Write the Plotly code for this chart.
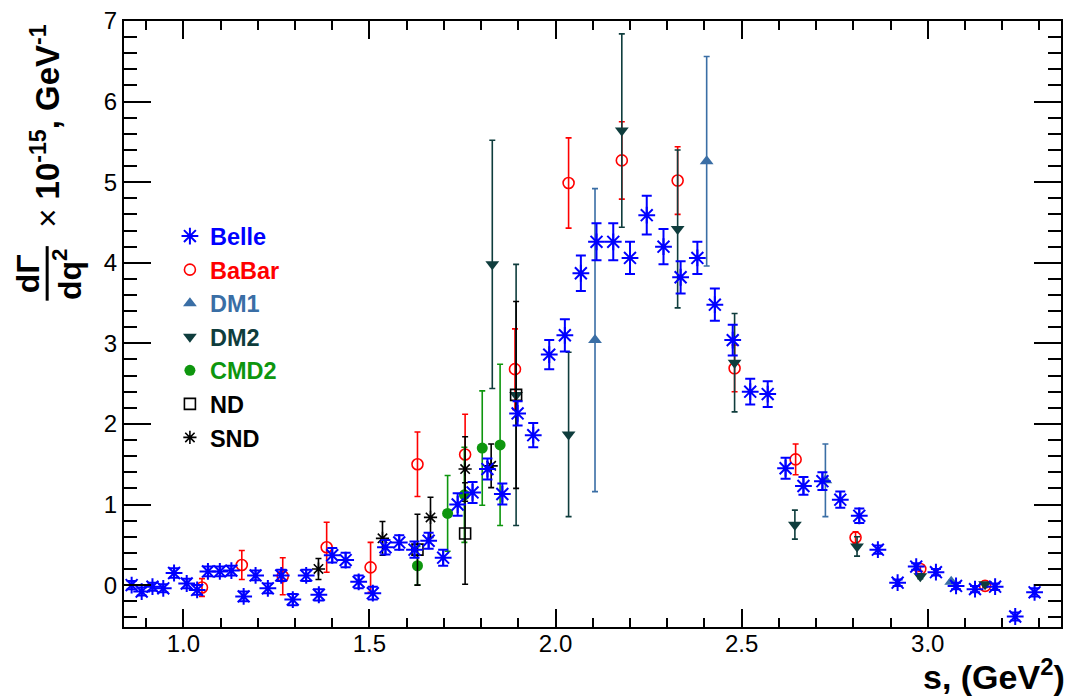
import plotly.graph_objects as go

# ---------------- data ----------------
belle_s = [0.861, 0.888, 0.917, 0.946, 0.975, 1.009, 1.037, 1.066, 1.098, 1.129,
           1.162, 1.194, 1.227, 1.263, 1.294, 1.330, 1.364, 1.400, 1.436, 1.471,
           1.509, 1.543, 1.580, 1.621, 1.659, 1.698, 1.737, 1.777, 1.817, 1.857,
           1.898, 1.940, 1.983, 2.025, 2.068, 2.110, 2.155, 2.200, 2.245, 2.290,
           2.336, 2.381, 2.428, 2.476, 2.523, 2.570, 2.618, 2.666, 2.717, 2.765,
           2.816, 2.866, 2.919, 2.969, 3.022, 3.076, 3.127, 3.181, 3.235, 3.287]
belle_v = [0.00, -0.08, -0.02, -0.04, 0.15, 0.02, -0.06, 0.17, 0.17, 0.18,
           -0.14, 0.12, -0.04, 0.12, -0.18, 0.12, -0.12, 0.37, 0.31, 0.04,
           -0.10, 0.47, 0.53, 0.44, 0.55, 0.34, 1.00, 1.15, 1.44, 1.13,
           2.13, 1.86, 2.86, 3.10, 3.87, 4.26, 4.26, 4.06, 4.59, 4.20,
           3.82, 4.06, 3.48, 3.04, 2.40, 2.37, 1.45, 1.23, 1.29, 1.06,
           0.86, 0.44, 0.03, 0.23, 0.16, -0.01, -0.05, -0.02, -0.39, -0.09]
belle_e = [0.05, 0.05, 0.05, 0.05, 0.06, 0.06, 0.06, 0.06, 0.06, 0.06,
           0.06, 0.06, 0.06, 0.07, 0.07, 0.07, 0.07, 0.09, 0.09, 0.08,
           0.08, 0.09, 0.09, 0.10, 0.10, 0.10, 0.14, 0.13, 0.13, 0.13,
           0.15, 0.15, 0.18, 0.20, 0.22, 0.23, 0.23, 0.20, 0.24, 0.22,
           0.20, 0.20, 0.20, 0.19, 0.16, 0.16, 0.13, 0.11, 0.11, 0.10,
           0.09, 0.05, 0.04, 0.04, 0.04, 0.04, 0.04, 0.04, 0.05, 0.05]

babar_s = [1.050, 1.157, 1.267, 1.385, 1.503, 1.629, 1.757, 1.891, 2.035, 2.178,
           2.328, 2.481, 2.645, 2.806, 2.980, 3.154]
babar_v = [-0.03, 0.25, 0.11, 0.47, 0.22, 1.50, 1.62, 2.68, 4.99, 5.27,
           5.02, 2.69, 1.56, 0.59, 0.20, -0.01]
babar_e = [0.11, 0.18, 0.23, 0.31, 0.31, 0.40, 0.50, 0.50, 0.56, 0.48,
           0.42, 0.29, 0.19, 0.07, 0.03, 0.02]

dm1_s = [2.106, 2.406, 2.725, 3.063]
dm1_v = [3.04, 5.26, 1.30, 0.04]
dm1_e = [1.88, 1.30, 0.45, 0.02]

dm2_s = [1.830, 1.894, 2.035, 2.178, 2.328, 2.481, 2.643, 2.810, 2.980, 3.154]
dm2_v = [3.98, 2.36, 1.87, 5.64, 4.42, 2.76, 0.75, 0.48, 0.11, 0.01]
dm2_e = [1.54, 1.62, 1.02, 1.20, 0.98, 0.61, 0.18, 0.12, 0.03, 0.02]

cmd2_s = [1.629, 1.710, 1.755, 1.803, 1.851]
cmd2_v = [0.24, 0.89, 1.12, 1.70, 1.74]
cmd2_e = [0.24, 0.47, 0.59, 0.71, 1.00]

nd_s = [1.629, 1.757, 1.894]
nd_v = [0.44, 0.64, 2.36]
nd_e = [0.44, 0.63, 1.16]

snd_s = [1.363, 1.535, 1.664, 1.757, 1.827]
snd_v = [0.20, 0.58, 0.84, 1.44, 1.48]
snd_e = [0.13, 0.21, 0.25, 0.40, 0.27]

# ---------------- styling ----------------
C_BELLE = "#0000ff"
C_BABAR = "#ff0000"
C_DM1 = "#3a6ea5"
C_DM2 = "#0f3d3d"
C_CMD2 = "#0e960e"
C_BLACK = "#000000"
FONT = "Liberation Sans, Arial, sans-serif"


def lname(txt, col):
    return "<b><span style='color:%s'>%s</span></b>" % (col, txt)


fig = go.Figure()


def add(s, v, e, name, col, symbol, size, rank, lw=1.5, cap=3, eth=1.6, fill=None):
    fig.add_trace(go.Scatter(
        x=s, y=v, mode="markers", name=lname(name, col), legendrank=rank,
        legendgroup=name,
        marker=dict(symbol=symbol, size=size, color=fill if fill else col,
                    line=dict(color=col, width=lw)),
        error_y=dict(type="data", array=e, visible=True, color=col,
                     thickness=eth, width=cap),
    ))


add(babar_s, babar_v, babar_e, "BaBar", C_BABAR, "circle-open", 11, 2, lw=1.6)
add(dm1_s, dm1_v, dm1_e, "DM1", C_DM1, "triangle-up", 12, 3, lw=0)
add(dm2_s, dm2_v, dm2_e, "DM2", C_DM2, "triangle-down", 12, 4, lw=0)
add(cmd2_s, cmd2_v, cmd2_e, "CMD2", C_CMD2, "circle", 11, 5, lw=0)
add(nd_s, nd_v, nd_e, "ND", C_BLACK, "square-open", 11, 6, lw=1.6)
add(snd_s, snd_v, snd_e, "SND", C_BLACK, "asterisk-open", 11, 7, lw=1.6)
add(belle_s, belle_v, belle_e, "Belle", C_BELLE, "asterisk-open", 14, 1,
    lw=2, cap=5, eth=2)

axis_common = dict(
    showline=True, linecolor="black", linewidth=2, mirror="allticks",
    ticks="inside", tickcolor="black", tickwidth=2,
    showgrid=False, zeroline=False,
    tickfont=dict(family=FONT, size=24, color="black"),
)

fig.update_xaxes(range=[0.8405, 3.358], tick0=0, dtick=0.5, tickformat=".1f",
                 ticklen=18, ticklabelstandoff=-6,
                 minor=dict(dtick=0.1, ticklen=9, tickwidth=2, tickcolor="black",
                            ticks="inside", showgrid=False),
                 **axis_common)
fig.update_yaxes(range=[-0.52, 7.0], tick0=0, dtick=1, ticklen=27,
                 minor=dict(dtick=0.2, ticklen=13, tickwidth=2, tickcolor="black",
                            ticks="inside", showgrid=False),
                 **axis_common)

ann_font = dict(family=FONT, size=32, color="black")
annotations = [
    dict(text="<b>s, (GeV<sup>2</sup>)</b>", xref="paper", yref="paper",
         x=1.006, y=-0.078, xanchor="right", yanchor="middle", showarrow=False,
         font=dict(family=FONT, size=34, color="black")),
    dict(text="<b>dΓ</b>", xref="paper", yref="paper", x=-0.1022, y=0.5826,
         xanchor="center", yanchor="middle", textangle=-90, showarrow=False,
         font=ann_font),
    dict(text="<b>dq<sup>2</sup></b>", xref="paper", yref="paper", x=-0.0607,
         y=0.5826, xanchor="center", yanchor="middle", textangle=-90,
         showarrow=False, font=ann_font),
    dict(text="× <b>10<sup>-15</sup>, GeV<sup>-1</sup></b>", xref="paper",
         yref="paper", x=-0.0841, y=0.8273, xanchor="center", yanchor="middle",
         textangle=-90, showarrow=False,
         font=dict(family=FONT, size=33, color="black")),
]

fig.update_layout(
    width=1070, height=698,
    margin=dict(l=124, r=7, t=16, b=71),
    plot_bgcolor="white", paper_bgcolor="white",
    annotations=annotations,
    shapes=[dict(type="line", xref="paper", yref="paper", x0=-0.082, x1=-0.082,
                 y0=0.5385, y1=0.6285, line=dict(color="black", width=3))],
    showlegend=True,
    legend=dict(x=0.049, y=0.681, xanchor="left", yanchor="top",
                bgcolor="rgba(0,0,0,0)", borderwidth=0,
                font=dict(family=FONT, size=23.5),
                traceorder="grouped", tracegroupgap=0, itemwidth=30),
)

fig.write_html("out.html")
